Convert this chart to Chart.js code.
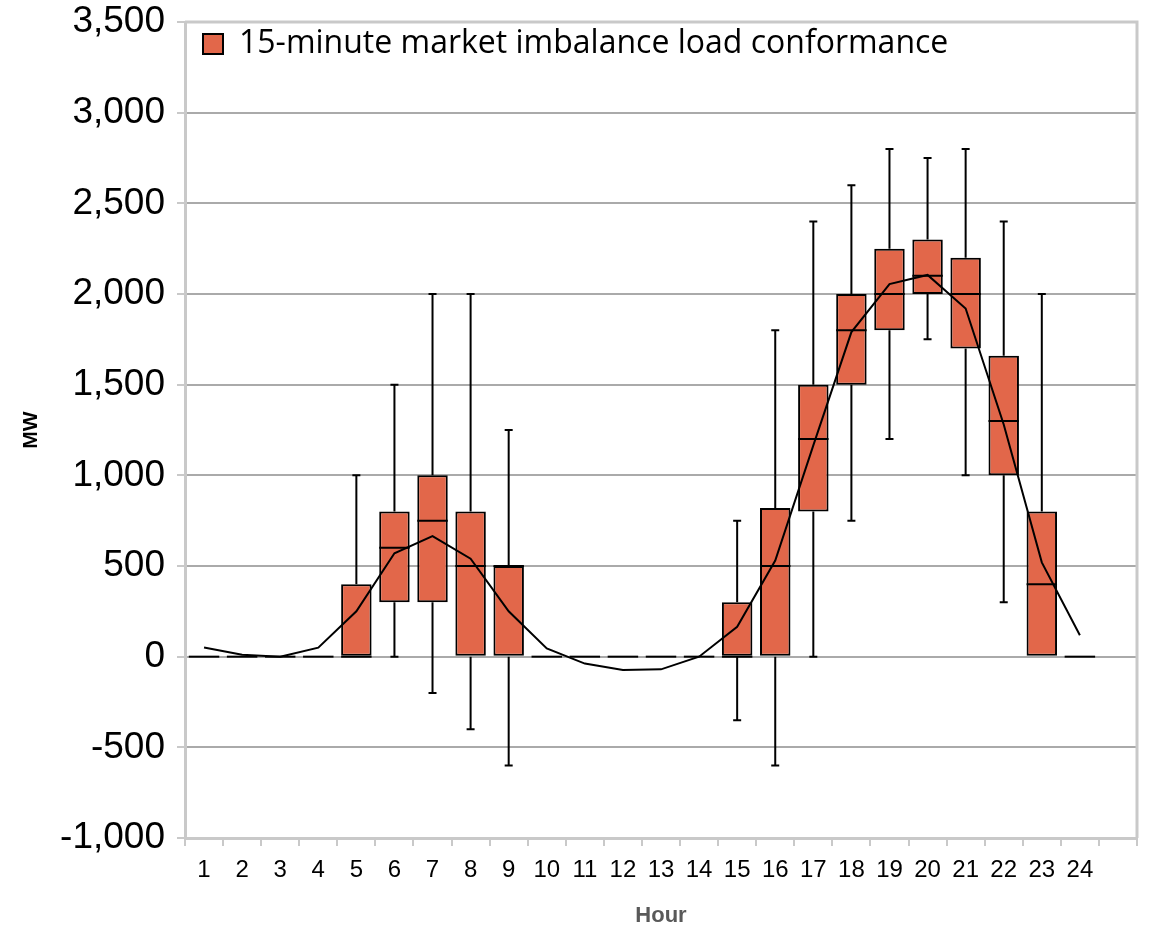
<!DOCTYPE html>
<html lang="en">
<head>
  <meta charset="utf-8">
  <title>15-minute market imbalance load conformance</title>
  <script src="https://cdn.jsdelivr.net/npm/chart.js@4/dist/chart.umd.min.js"></script>
  <style>
    html, body { margin: 0; padding: 0; background: #fff; }
    #wrap { width: 1152px; height: 932px; }
  </style>
</head>
<body>
  <div id="wrap">
    <canvas id="c"></canvas>
  </div>
  <script>
    // hour labels, last slot is left empty like in the original
    var hours = ['1', '2', '3', '4', '5', '6', '7', '8', '9', '10', '11', '12',
      '13', '14', '15', '16', '17', '18', '19', '20', '21', '22', '23', '24', ''];

    // box statistics per hour (MW)
    var q1 = [0, 0, 0, 0, 0, 300, 300, 0, 0, 0, 0, 0, 0, 0, 0, 0, 800, 1500, 1800, 2000, 1700, 1000, 0, 0];
    var q3 = [0, 0, 0, 0, 400, 800, 1000, 800, 500, 0, 0, 0, 0, 0, 300, 820, 1500, 2000, 2250, 2300, 2200, 1660, 800, 0];
    var median = [0, 0, 0, 0, 0, 600, 750, 500, 500, 0, 0, 0, 0, 0, 0, 500, 1200, 1800, 2000, 2100, 2000, 1300, 400, 0];
    var whiskerLow = [0, 0, 0, 0, 0, 0, -200, -400, -600, 0, 0, 0, 0, 0, -350, -600, 0, 750, 1200, 1750, 1000, 300, 0, 0];
    var whiskerHigh = [0, 0, 0, 0, 1000, 1500, 2000, 2000, 1250, 0, 0, 0, 0, 0, 750, 1800, 2400, 2600, 2800, 2750, 2800, 2400, 2000, 0];
    // average line
    var mean = [50, 10, 0, 50, 250, 570, 665, 540, 250, 45, -38, -74, -70, 0, 165, 530, 1165, 1790, 2055, 2105, 1920, 1280, 520, 118];

    var yTicks = { min: -1000, max: 3500, step: 500 };

    var boxes = q1.map(function (v, i) { return [v, q3[i]]; });

    // whiskers, median lines and the frame around the plot
    var boxPlugin = {
      id: 'boxExtras',
      beforeDatasetsDraw: function (chart) {
        var a = chart.chartArea, ctx = chart.ctx;
        ctx.save();
        ctx.strokeStyle = '#c9c9c9';
        ctx.lineWidth = 3;
        ctx.beginPath();
        ctx.moveTo(a.left, a.top);
        ctx.lineTo(a.right, a.top);
        ctx.lineTo(a.right, a.bottom);
        ctx.stroke();
        ctx.restore();
      },
      afterDatasetDraw: function (chart, args) {
        if (args.index !== 0) return;
        var ctx = chart.ctx;
        var y = chart.scales.y;
        var meta = chart.getDatasetMeta(0);
        ctx.save();
        ctx.strokeStyle = '#000';
        ctx.lineWidth = 2;
        meta.data.forEach(function (bar, i) {
          var hw = bar.width / 2;
          var cap = 4;
          ctx.beginPath();
          // median
          var ym = y.getPixelForValue(median[i]);
          ctx.moveTo(bar.x - hw, ym);
          ctx.lineTo(bar.x + hw, ym);
          if (whiskerHigh[i] > q3[i]) {
            var yt = y.getPixelForValue(whiskerHigh[i]);
            ctx.moveTo(bar.x, y.getPixelForValue(q3[i]));
            ctx.lineTo(bar.x, yt);
            ctx.moveTo(bar.x - cap, yt);
            ctx.lineTo(bar.x + cap, yt);
          }
          if (whiskerLow[i] < q1[i]) {
            var yb = y.getPixelForValue(whiskerLow[i]);
            ctx.moveTo(bar.x, y.getPixelForValue(q1[i]));
            ctx.lineTo(bar.x, yb);
            ctx.moveTo(bar.x - cap, yb);
            ctx.lineTo(bar.x + cap, yb);
          }
          ctx.stroke();
        });
        ctx.restore();
      }
    };

    var ctx = document.getElementById('c');
    var chart = new Chart(ctx, {
      data: {
        labels: hours,
        datasets: [{
          type: 'bar',
          label: '15-minute market imbalance load conformance',
          data: boxes,
          backgroundColor: '#e2674a',
          borderColor: '#000',
          borderWidth: 2,
          borderSkipped: false,
          barPercentage: 0.8,
          categoryPercentage: 1,
          order: 2
        }, {
          type: 'line',
          label: 'mean',
          data: mean,
          borderColor: '#000',
          borderWidth: 2,
          pointRadius: 0,
          tension: 0,
          fill: false,
          order: 1
        }]
      },
      options: {
        responsive: true,
        maintainAspectRatio: false,
        animation: false,
        layout: { padding: { top: 22, right: 15, left: 10, bottom: 3 } },
        plugins: {
          tooltip: { enabled: false },
          legend: {
            position: 'chartArea',
            align: 'start',
            // empty title only used as a spacer above the legend row
            title: { display: true, text: ' ', font: { size: 8, lineHeight: 1.25 }, padding: 0 },
            labels: {
              filter: function (item) { return item.datasetIndex === 0; },
              font: { family: 'Open Sans', size: 32 },
              color: '#000',
              boxWidth: 20,
              boxHeight: 20,
              padding: 18
            }
          }
        },
        scales: {
          x: {
            offset: true,
            grid: {
              offset: true,
              drawOnChartArea: false,
              color: '#c9c9c9',
              lineWidth: 2,
              tickLength: 8
            },
            border: { color: '#c9c9c9', width: 3 },
            ticks: {
              autoSkip: false,
              maxRotation: 0,
              padding: 10,
              color: '#000',
              font: { family: 'Liberation Sans', size: 24 }
            },
            title: {
              display: true,
              text: 'Hour',
              color: '#595959',
              font: { family: 'Liberation Sans', size: 22, weight: 'bold' },
              padding: { top: 0, bottom: 0 }
            },
            afterFit: function (s) { s.height = 91; }
          },
          y: {
            min: yTicks.min,
            max: yTicks.max,
            grid: { color: '#aaaaaa', lineWidth: 2, tickLength: 8, tickColor: '#c9c9c9' },
            border: { color: '#c9c9c9', width: 3 },
            ticks: {
              stepSize: yTicks.step,
              padding: 12,
              color: '#000',
              font: { family: 'Liberation Sans', size: 37 },
              callback: function (v) { return v.toLocaleString('en-US'); }
            },
            title: {
              display: true,
              text: 'MW',
              color: '#000',
              font: { family: 'Liberation Sans', size: 21, weight: 'bold' },
              padding: { top: 9, bottom: 0 }
            },
            afterFit: function (s) {
              s.width = 175;
              s.paddingTop = 0;
              s.paddingBottom = 0;
            }
          }
        }
      },
      plugins: [boxPlugin]
    });
  </script>
</body>
</html>
